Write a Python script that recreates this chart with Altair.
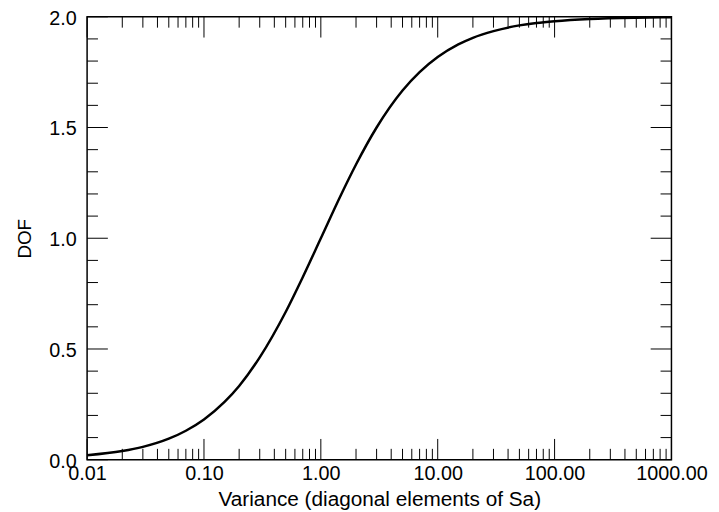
import altair as alt
import pandas as pd

# Curve values
variance = [0.01, 0.02, 0.03, 0.05, 0.07, 0.1, 0.15, 0.2, 0.3, 0.5, 0.7, 1.0,
            1.5, 2.0, 3.0, 5.0, 7.0, 10.0, 15.0, 20.0, 30.0, 50.0, 70.0, 100.0,
            200.0, 500.0, 1000.0]
dof = [0.02, 0.039, 0.058, 0.095, 0.131, 0.182, 0.261, 0.333, 0.462, 0.667,
       0.824, 1.0, 1.2, 1.333, 1.5, 1.667, 1.75, 1.818, 1.875, 1.905, 1.935,
       1.961, 1.972, 1.98, 1.99, 1.996, 1.998]

# Tick values
x_major = [0.01, 0.1, 1.0, 10.0, 100.0, 1000.0]
x_minor = [m * d for d in [0.01, 0.1, 1.0, 10.0, 100.0] for m in range(2, 10)]
y_major = [0.0, 0.5, 1.0, 1.5, 2.0]
y_minor = [0.1, 0.2, 0.3, 0.4, 0.6, 0.7, 0.8, 0.9, 1.1, 1.2, 1.3, 1.4,
           1.6, 1.7, 1.8, 1.9]

W, H = 591, 448
MAJ, MIN = 21, 11
FONT = "Liberation Sans"

curve = pd.DataFrame({"x": variance, "y": dof})
xs = alt.Scale(type="log", domain=[0.01, 1000], nice=False)
ys = alt.Scale(domain=[0, 2], nice=False, zero=False)

line = alt.Chart(curve).mark_line(color="black", strokeWidth=2.5,
                                  interpolate="monotone", clip=True).encode(
    x=alt.X("x:Q", scale=xs,
            title="Variance (diagonal elements of Sa)",
            axis=alt.Axis(values=x_major, format=".2f", ticks=False,
                          domain=False, grid=False, labelFont=FONT,
                          labelFontSize=20, labelColor="black",
                          labelPadding=4, labelOverlap=False, labelFlush=False,
                          titleFont=FONT, titleFontSize=21,
                          titleFontWeight="normal", titleColor="black",
                          titlePadding=5)),
    y=alt.Y("y:Q", scale=ys, title="DOF",
            axis=alt.Axis(values=y_major, format=".1f", ticks=False,
                          domain=False, grid=False, labelFont=FONT,
                          labelFontSize=20, labelColor="black",
                          labelPadding=11, labelOffset=1.5,
                          labelOverlap=False, labelFlush=False,
                          titleFont=FONT, titleFontSize=19,
                          titleFontWeight="normal", titleColor="black",
                          titlePadding=14)),
)


def xticks(vals, length):
    d = pd.DataFrame({"x": vals})
    bottom = alt.Chart(d).mark_rule(color="black", strokeWidth=1).encode(
        x=alt.X("x:Q", scale=xs), y=alt.value(H), y2=alt.value(H - length))
    top = alt.Chart(d).mark_rule(color="black", strokeWidth=1).encode(
        x=alt.X("x:Q", scale=xs), y=alt.value(0), y2=alt.value(length))
    return [bottom, top]


def yticks(vals, length):
    d = pd.DataFrame({"y": vals})
    left = alt.Chart(d).mark_rule(color="black", strokeWidth=1).encode(
        y=alt.Y("y:Q", scale=ys), x=alt.value(0), x2=alt.value(length))
    right = alt.Chart(d).mark_rule(color="black", strokeWidth=1).encode(
        y=alt.Y("y:Q", scale=ys), x=alt.value(W), x2=alt.value(W - length))
    return [left, right]


layers = [line] + xticks(x_major, MAJ) + xticks(x_minor, MIN) \
    + yticks(y_major, MAJ) + yticks(y_minor, MIN)

chart = alt.layer(*layers).properties(
    width=W, height=H,
    autosize=alt.AutoSizeParams(type="none"),
    padding={"left": 80, "top": 6, "right": 40, "bottom": 50},
    background="white",
).configure_view(stroke="black", strokeWidth=1.5)

chart.save("out.html", embed_options={"renderer": "svg", "actions": False})
